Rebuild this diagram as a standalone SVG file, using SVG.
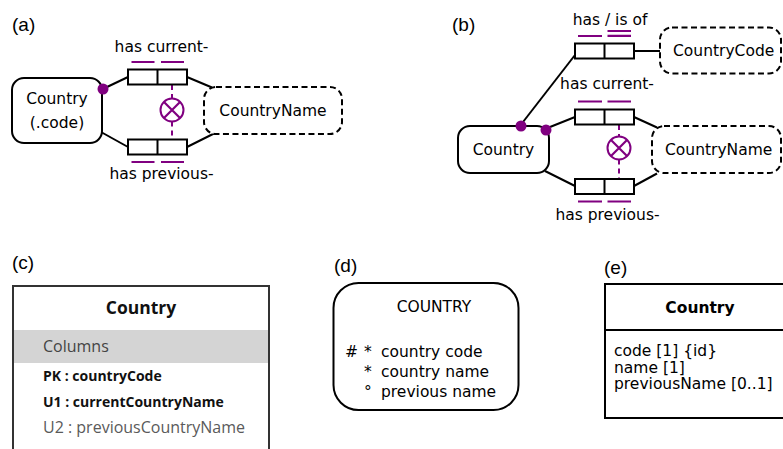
<svg xmlns="http://www.w3.org/2000/svg" width="783" height="449" viewBox="0 0 783 449">
<style>
.t{font-family:"DejaVu Sans",Verdana,sans-serif;font-size:15.5px;fill:#000}
.m{text-anchor:middle}
.lab{font-family:"Liberation Sans",Arial,sans-serif;font-size:19px;fill:#000}
.ent{fill:#fff;stroke:#000;stroke-width:2}
.val{fill:#fff;stroke:#000;stroke-width:2;stroke-dasharray:6 3.5}
.role{fill:#fff;stroke:#000;stroke-width:2}
.ln{stroke:#000;stroke-width:2;fill:none}
.uc{stroke:#800080;stroke-width:2.2;fill:none}
.pd{fill:#800080}
.xc{fill:#fff;stroke:#800080;stroke-width:2}
.xd{stroke:#800080;stroke-width:2;stroke-dasharray:5 4;fill:none}
.c{font-family:"Open Sans","Noto Sans",sans-serif}
</style>
<rect width="783" height="449" fill="#fff"/>

<!-- panel labels -->
<text class="lab" x="12" y="31">(a)</text>
<text class="lab" x="452" y="31">(b)</text>
<text class="lab" x="12" y="269">(c)</text>
<text class="lab" x="334" y="272">(d)</text>
<text class="lab" x="604" y="274">(e)</text>

<!-- ===== Panel (a) ===== -->
<g id="a-connectors">
  <path class="ln" d="M107,87 L128,77"/>
  <path class="ln" d="M101,132 L128,147"/>
  <path class="ln" d="M187,77 L212,87.5"/>
  <path class="ln" d="M187,147 L214,133.5"/>
  <path class="xd" d="M172,85 V98.5 M172,121.5 V139"/>
</g>
<g id="a-country">
  <rect class="ent" x="12" y="78" width="90" height="65" rx="12"/>
  <text class="t m" x="57" y="104">Country</text>
  <text class="t m" x="57" y="128">(.code)</text>
  <circle class="pd" cx="103" cy="89" r="5.5"/>
</g>
<g id="a-countryname">
  <rect class="val" x="204" y="87" width="138" height="47" rx="12"/>
  <text class="t m" x="273" y="115.5">CountryName</text>
</g>
<g id="a-hascurrent">
  <text class="t m" x="161.5" y="52">has current-</text>
  <path class="uc" d="M131.5,62 H154.5 M161,62 H184"/>
  <rect class="role" x="128" y="69.5" width="59" height="15"/>
  <path class="ln" d="M157.5,69.5 V84.5"/>
</g>
<g id="a-hasprevious">
  <rect class="role" x="128" y="139.5" width="59" height="15"/>
  <path class="ln" d="M157.5,139.5 V154.5"/>
  <path class="uc" d="M131.5,162 H154.5 M161,162 H184"/>
  <text class="t m" x="161.5" y="179">has previous-</text>
</g>
<g id="a-exclusion">
  <circle class="xc" cx="172" cy="110" r="11.5"/>
  <path class="uc" d="M164,102 L180,118 M180,102 L164,118"/>
</g>

<!-- ===== Panel (b) ===== -->
<g id="b-connectors">
  <path class="ln" d="M523,122 L575,55"/>
  <path class="ln" d="M550,127 L575,117"/>
  <path class="ln" d="M545,171 L575,186"/>
  <path class="ln" d="M634,51 H660"/>
  <path class="ln" d="M634,117 L657,127.5"/>
  <path class="ln" d="M634,186 L657,173.5"/>
  <path class="xd" d="M619,125 V136.5 M619,159.5 V179"/>
</g>
<g id="b-country">
  <rect class="ent" x="458" y="126" width="91" height="47" rx="12"/>
  <text class="t m" x="503.5" y="155">Country</text>
  <circle class="pd" cx="521" cy="126" r="5.5"/>
  <circle class="pd" cx="546" cy="130" r="5.5"/>
</g>
<g id="b-countrycode">
  <rect class="val" x="660" y="27.5" width="121" height="46" rx="12"/>
  <text class="t" x="673" y="56">CountryCode</text>
</g>
<g id="b-countryname">
  <rect class="val" x="652" y="126" width="129" height="47" rx="12"/>
  <text class="t" x="665" y="155">CountryName</text>
</g>
<g id="b-hasisof">
  <text class="t m" x="610" y="25">has / is of</text>
  <path class="uc" d="M578,36 H602 M607.5,31 H631 M607.5,35.8 H631"/>
  <rect class="role" x="575" y="43.5" width="59" height="15"/>
  <path class="ln" d="M604.5,43.5 V58.5"/>
</g>
<g id="b-hascurrent">
  <text class="t m" x="607" y="89">has current-</text>
  <path class="uc" d="M578,101.5 H602 M607.5,101.5 H631"/>
  <rect class="role" x="575" y="109.5" width="59" height="15"/>
  <path class="ln" d="M604.5,109.5 V124.5"/>
</g>
<g id="b-hasprevious">
  <rect class="role" x="575" y="179" width="59" height="15"/>
  <path class="ln" d="M604.5,179 V194"/>
  <path class="uc" d="M578,201.5 H602 M607.5,201.5 H631"/>
  <text class="t m" x="607.5" y="220">has previous-</text>
</g>
<g id="b-exclusion">
  <circle class="xc" cx="619" cy="148" r="11.5"/>
  <path class="uc" d="M611,140 L627,156 M627,140 L611,156"/>
</g>

<!-- ===== Panel (c) ===== -->
<g id="c-table">
  <rect x="13" y="286" width="256" height="180" fill="#fff" stroke="#333" stroke-width="2"/>
  <rect x="14" y="330" width="254" height="33" fill="#d4d4d4"/>
  <text class="c m" x="141" y="314" font-size="17.5" font-weight="bold" fill="#111">Country</text>
  <text class="c" x="43" y="352" font-size="16" fill="#444">Columns</text>
  <text class="c" x="43" y="381" font-size="14" font-weight="bold" fill="#111">PK : countryCode</text>
  <text class="c" x="43" y="407" font-size="14" font-weight="bold" fill="#111">U1 : currentCountryName</text>
  <text class="c" x="43" y="433" font-size="16" fill="#5a5a5a">U2 : previousCountryName</text>
</g>

<!-- ===== Panel (d) ===== -->
<g id="d-entity">
  <rect class="ent" x="333.5" y="283" width="185" height="127" rx="25"/>
  <text class="t m" x="434" y="312">COUNTRY</text>
  <text class="t" x="345" y="357" font-size="16">#</text>
  <text class="t" x="364" y="357" font-size="16">*</text>
  <text class="t" x="381" y="357" font-size="16">country code</text>
  <text class="t" x="364" y="377" font-size="16">*</text>
  <text class="t" x="381" y="377" font-size="16">country name</text>
  <text class="t" x="364" y="397" font-size="16">°</text>
  <text class="t" x="381" y="397" font-size="16">previous name</text>
</g>

<!-- ===== Panel (e) ===== -->
<g id="e-class">
  <rect x="605" y="284" width="190" height="134" fill="#fff" stroke="#000" stroke-width="2"/>
  <path class="ln" d="M605,330 H783"/>
  <text class="t m" x="700" y="313" font-size="16" font-weight="bold">Country</text>
  <text class="t" x="614" y="356" font-size="16">code [1] {id}</text>
  <text class="t" x="614" y="372.5" font-size="16">name [1]</text>
  <text class="t" x="614" y="389" font-size="16">previousName [0..1]</text>
</g>
</svg>
